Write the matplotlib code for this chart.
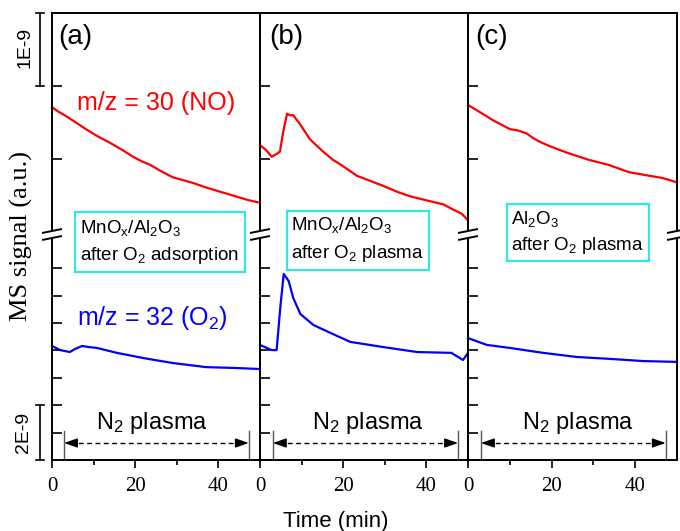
import matplotlib
matplotlib.use('Agg')
import matplotlib.pyplot as plt
from matplotlib.lines import Line2D
from matplotlib.patches import Rectangle
from matplotlib import transforms

plt.rcParams['font.family'] = 'Liberation Sans'
plt.rcParams['mathtext.fontset'] = 'custom'
plt.rcParams['mathtext.rm'] = 'Liberation Sans'
plt.rcParams['mathtext.it'] = 'Liberation Sans:italic'
plt.rcParams['mathtext.bf'] = 'Liberation Sans:bold'

# ---------------- data (units: 1E-9 per unit in each segment) ----------------
# upper segment (m/z = 30, NO)
t_no_a = [0, 1.5, 3.6, 6, 8.4, 11, 14, 17, 19.5, 21.5, 23.6, 26, 29, 31.5, 34, 37, 40.5, 43.5, 47, 50]
no_a   = [1.71, 1.65, 1.58, 1.49, 1.40, 1.31, 1.22, 1.12, 1.03, 0.97, 0.92, 0.84, 0.75, 0.71, 0.67, 0.61, 0.55, 0.50, 0.44, 0.40]
t_no_b = [0, 1.5, 2.8, 4.0, 4.8, 5.6, 6.5, 7.2, 8.0, 9.7, 12, 15.2, 17.5, 20, 23.3, 26.5, 29.7, 33, 36, 41, 44, 46, 48.5, 50]
no_b   = [1.19, 1.12, 1.03, 1.07, 1.10, 1.38, 1.62, 1.60, 1.60, 1.47, 1.27, 1.10, 0.99, 0.90, 0.77, 0.70, 0.63, 0.55, 0.49, 0.42, 0.38, 0.32, 0.25, 0.16]
t_no_c = [0, 2.9, 6, 8, 10, 12, 14, 15.5, 17, 19.8, 24, 28.8, 33.6, 38.5, 42.4, 46.5, 50]
no_c   = [1.74, 1.64, 1.53, 1.47, 1.41, 1.39, 1.35, 1.29, 1.24, 1.17, 1.08, 0.99, 0.92, 0.82, 0.78, 0.74, 0.68]

# lower segment (m/z = 32, O2)
t_o2_a = [0, 2, 4.3, 5.5, 7.2, 9, 10.8, 15.6, 22, 29, 37, 43.7, 50]
o2_a   = [4.16, 4.01, 3.94, 4.05, 4.16, 4.12, 4.09, 3.91, 3.72, 3.54, 3.39, 3.36, 3.32]
t_o2_b = [0, 2.8, 4.0, 4.9, 5.7, 6.9, 8.0, 9.7, 12.8, 16.9, 21.7, 29.7, 37.8, 46, 48.8, 50]
o2_b   = [4.20, 4.01, 4.01, 5.60, 6.79, 6.53, 5.91, 5.33, 4.93, 4.64, 4.31, 4.12, 3.94, 3.91, 3.65, 3.91]
t_o2_c = [0, 4.5, 10, 18, 26, 34, 42, 50]
o2_c   = [4.45, 4.20, 4.09, 3.91, 3.76, 3.69, 3.61, 3.58]

panels = ['(a)', '(b)', '(c)']
no_t = [t_no_a, t_no_b, t_no_c]
no_v = [no_a, no_b, no_c]
o2_t = [t_o2_a, t_o2_b, t_o2_c]
o2_v = [o2_a, o2_b, o2_c]

n2_start = [2.9, 3.1, 3.1]
n2_end = [47.3, 47.6, 47.3]
n2_label_x = [24.0, 26.0, 26.4]

box_lines = [
    ['MnO$_\\mathrm{x}$/Al$_2$O$_3$', 'after O$_2$ adsorption'],
    ['MnO$_\\mathrm{x}$/Al$_2$O$_3$', 'after O$_2$ plasma'],
    ['Al$_2$O$_3$', 'after O$_2$ plasma'],
]

x_ticks = [0, 20, 40]
x_minor = [10, 30]
top_ticks = [1, 2]
bot_ticks = [1, 2, 3, 4, 5, 6, 7]

# ---------------- layout ----------------
W, H = 680, 531
fig = plt.figure(figsize=(W / 100, H / 100), dpi=100)

def fx(x):
    return x / W

def fy(y):
    return 1 - y / H

lefts = [52, 260, 468]
rights = [260, 468, 677]
TOP0, TOP1 = 13, 231
BOT0, BOT1 = 238, 460
PX_TOP = 73.0
PX_BOT = 27.4
top_lim = ((232 - TOP1) / PX_TOP, (232 - TOP0) / PX_TOP)
bot_lim = (0, (460 - BOT0) / PX_BOT)

RED = '#FF0000'
BLUE = '#0000FF'
CYAN = '#2EE8E8'
LW = 1.6
SPW = 1.4

axes_top, axes_bot = [], []
for i in range(3):
    l, r = lefts[i], rights[i]
    axT = fig.add_axes([fx(l), fy(TOP1), (r - l) / W, (TOP1 - TOP0) / H])
    axB = fig.add_axes([fx(l), fy(BOT1), (r - l) / W, (BOT1 - BOT0) / H])
    for ax in (axT, axB):
        ax.set_xlim(0, 50)
        for s in ax.spines.values():
            s.set_linewidth(SPW)
        ax.tick_params(axis='y', direction='in', length=7, width=1.2,
                       left=True, right=False, labelleft=False)
    axT.spines['bottom'].set_visible(False)
    axB.spines['top'].set_visible(False)
    axT.set_ylim(*top_lim)
    axB.set_ylim(*bot_lim)
    axT.set_yticks(top_ticks)
    axB.set_yticks(bot_ticks)
    axT.set_xticks([])
    axB.set_xticks(x_ticks)
    axB.set_xticks(x_minor, minor=True)
    axB.tick_params(axis='x', which='major', direction='out', length=6, width=1.2,
                    pad=6)
    axB.tick_params(axis='x', which='minor', direction='out', length=3.5, width=1.2)
    axB.set_xticklabels([str(v) for v in x_ticks], family='Liberation Serif', fontsize=15)
    axB.tick_params(axis='y', which='minor', left=False)

    axT.plot(no_t[i], no_v[i], color=RED, lw=LW, clip_on=False)
    axB.plot(o2_t[i], o2_v[i], color=BLUE, lw=LW, clip_on=False)

    # panel label
    axT.text([0.03, 0.045, 0.035][i], (231 - 37) / (TOP1 - TOP0), panels[i],
             transform=axT.transAxes, fontsize=20, va='center', ha='left')

    # N2 plasma marker
    ya = (460 - 443) / PX_BOT
    yv = (460 - 431) / PX_BOT
    for xv in (n2_start[i], n2_end[i]):
        axB.plot([xv, xv], [0, yv], color='#555555', lw=1.0)
    axB.plot([n2_start[i] + 1.5, n2_end[i] - 1.5], [ya, ya], color='k', lw=1.0,
             dashes=(3.5, 2.5))
    for a, b in ((n2_start[i], n2_start[i] + 2.0), (n2_end[i], n2_end[i] - 2.0)):
        axB.annotate('', xy=(a, ya), xytext=(b, ya),
                     arrowprops=dict(arrowstyle='-|>,head_length=0.4,head_width=0.14',
                                     color='k', lw=1.0, shrinkA=0, shrinkB=0,
                                     mutation_scale=20))
    axB.text(n2_label_x[i], (460 - 423) / PX_BOT, 'N$_2$ plasma', fontsize=17,
             ha='center', va='center')
    axes_top.append(axT)
    axes_bot.append(axB)

# break marks on the spines
for x in [52, 260, 468, 677]:
    for yc in (231, 238):
        fig.add_artist(Line2D([fx(x - 9), fx(x + 9)], [fy(yc + 1.8), fy(yc - 1.8)],
                              color='k', lw=1.4, transform=fig.transFigure))

# species labels
fig.text(fx(77), fy(103), 'm/z = 30 (NO)', color=RED, fontsize=18, ha='left', va='center')
fig.text(fx(77), fy(318), 'm/z = 32 (O$_2$)', color=BLUE, fontsize=18, ha='left', va='center')

# sample boxes
boxes = [(75, 212, 245, 272, 80, 228, 255),
         (287, 211, 429, 270, 291, 225, 253),
         (507, 204, 649, 261, 511, 219, 246)]
for i, (x0, y0, x1, y1, tx, ty1, ty2) in enumerate(boxes):
    fig.add_artist(Rectangle((fx(x0), fy(y1)), (x1 - x0) / W, (y1 - y0) / H,
                             transform=fig.transFigure, facecolor='white',
                             edgecolor=CYAN, lw=1.6, zorder=5))
    fig.text(fx(tx), fy(ty1), box_lines[i][0], fontsize=13.5, ha='left', va='center', zorder=6)
    fig.text(fx(tx), fy(ty2), box_lines[i][1], fontsize=13.5, ha='left', va='center', zorder=6)

# scale bars
axT = axes_top[0]
axB = axes_bot[0]
bx = (40 - 52) / (260 - 52)
cap = 4 / (260 - 52)
trT = transforms.blended_transform_factory(axT.transAxes, axT.transData)
trB = transforms.blended_transform_factory(axB.transAxes, axB.transData)
scale_top = (2, 3)
scale_bot = (0, 2)
for tr, ax, (ya, yb) in ((trT, axT, scale_top), (trB, axB, scale_bot)):
    ax.plot([bx, bx], [ya, yb], color='k', lw=1.2, transform=tr, clip_on=False)
    for yy in (ya, yb):
        ax.plot([bx - cap, bx + cap], [yy, yy], color='k', lw=1.2, transform=tr, clip_on=False)
axT.text((25 - 52) / 208, 2.53, '1E-9', transform=trT, rotation=90, fontsize=14,
         ha='center', va='center')
axB.text((23 - 52) / 208, 1.0, '2E-9', transform=trB, rotation=90, fontsize=14,
         ha='center', va='center')

# axis labels
fig.text(fx(21), fy(236), 'MS signal (a.u.)', rotation=90, family='Liberation Serif',
         fontsize=19, ha='center', va='center')
fig.text(fx(336), fy(521), 'Time (min)', fontsize=16, ha='center', va='center')

fig.savefig('out.png', dpi=100)
